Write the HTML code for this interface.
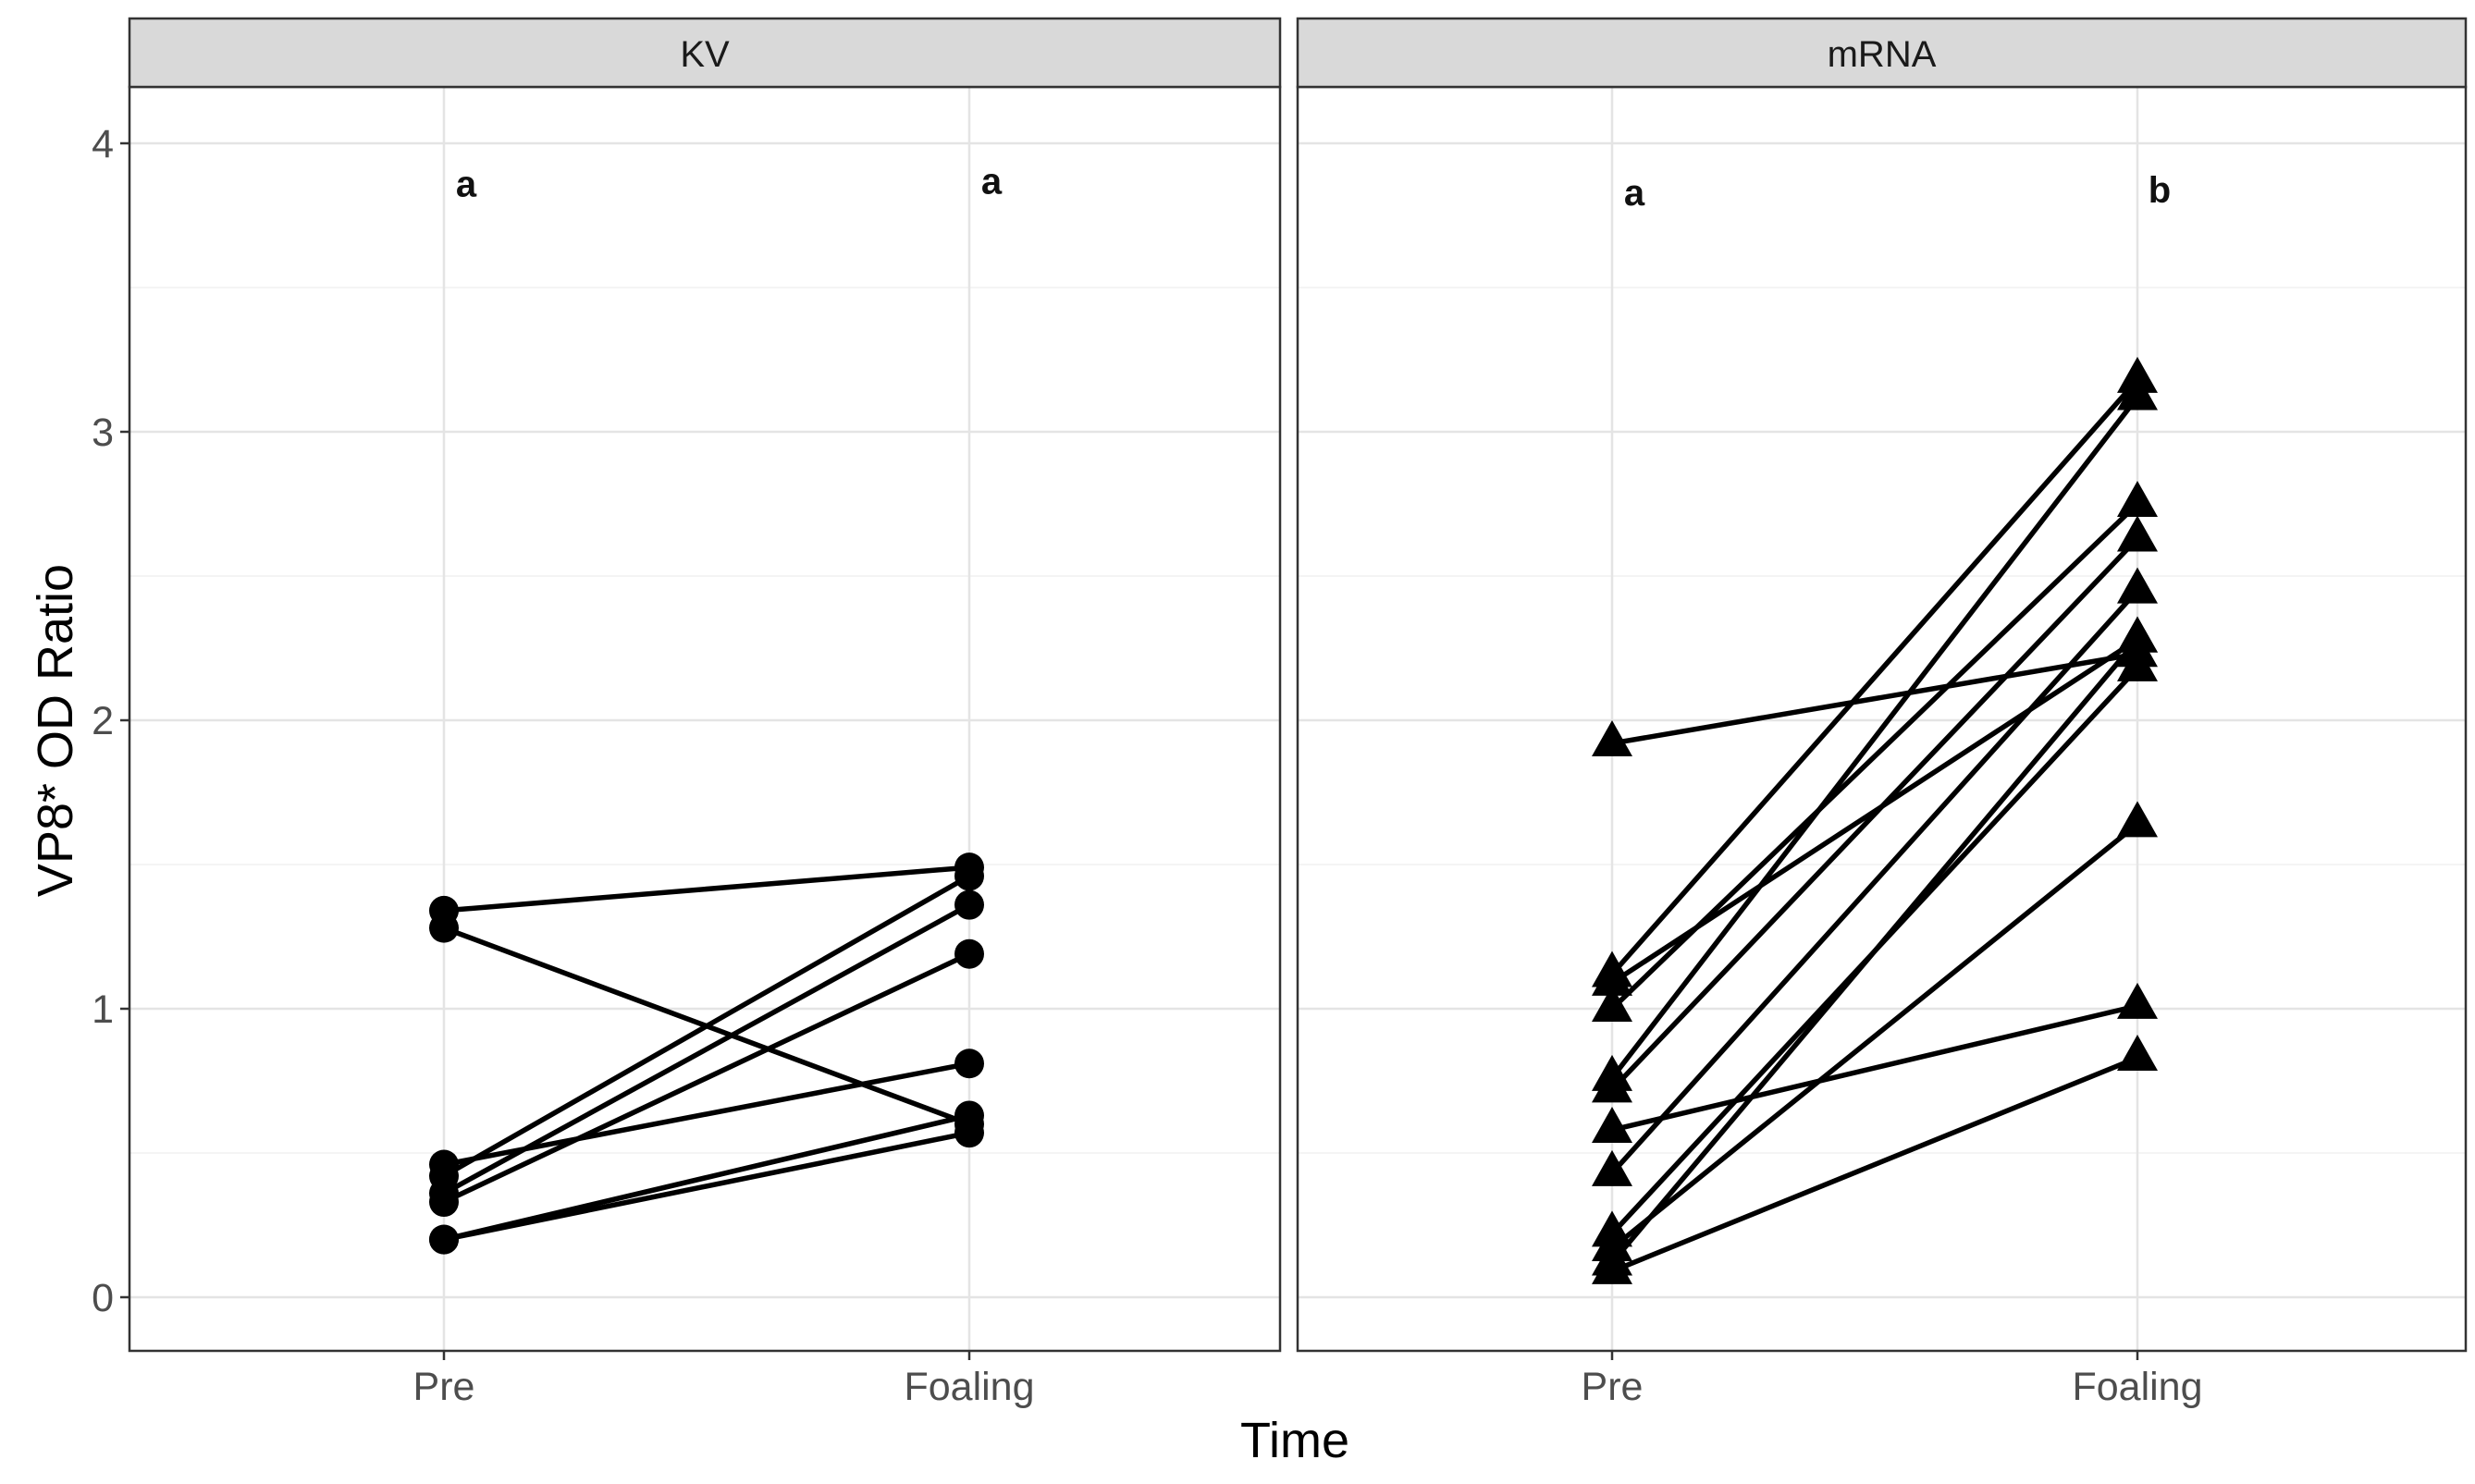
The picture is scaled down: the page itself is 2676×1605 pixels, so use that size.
<!DOCTYPE html>
<html><head><meta charset="utf-8"><style>
body{margin:0;background:#fff}
svg text{font-family:"Liberation Sans",Arial,sans-serif}
</style></head><body>
<svg id="chart" width="2676" height="1600" viewBox="0 0 2676 1600" xmlns="http://www.w3.org/2000/svg"></svg>
<script>
const yTicks=[0,1,2,3,4];
const xCats=["Pre","Foaling"];
const panels=["KV","mRNA"];
const kvPre=[1.34,1.28,0.46,0.42,0.36,0.33,0.20,0.20];
const kvFoal=[1.49,0.60,0.81,1.46,1.36,1.19,0.63,0.57];
const mrPre=[1.92,1.12,1.09,1.00,0.76,0.72,0.58,0.43,0.22,0.17,0.12,0.09];
const mrFoal=[2.23,3.18,2.28,2.75,3.12,2.63,1.01,2.45,2.18,1.64,2.28,0.83];
const letters=[["a","a"],["a","b"]];
const letterY=[[3.86,3.87],[3.83,3.84]];

const NS="http://www.w3.org/2000/svg";
const svg=document.getElementById('chart');
function el(t,a,p){const e=document.createElementNS(NS,t);for(const k in a)e.setAttribute(k,a[k]);(p||svg).appendChild(e);return e;}
const stripY=20,topY=94,botY=1461;
function yScale(v){return 1403-v*312;}
const frames=[{l:140,r:1384,x:[480,1048]},{l:1403,r:2666,x:[1743,2311]}];
const data=[[kvPre,kvFoal],[mrPre,mrFoal]];
frames.forEach((f,pi)=>{
  const g=el('g',{});
  
  
  el('rect',{x:f.l,y:topY,width:f.r-f.l,height:botY-topY,fill:'#fff'},g);
  for(let i=0;i<yTicks.length-1;i++){el('line',{x1:f.l,x2:f.r,y1:yScale(yTicks[i]+0.5),y2:yScale(yTicks[i]+0.5),stroke:'#f0f0f0','stroke-width':1.5},g);}
  yTicks.forEach(t=>{el('line',{x1:f.l,x2:f.r,y1:yScale(t),y2:yScale(t),stroke:'#e4e4e4','stroke-width':2.5},g);});
  f.x.forEach(x=>{el('line',{x1:x,x2:x,y1:topY,y2:botY,stroke:'#e4e4e4','stroke-width':2.5},g);});
  const pre=data[pi][0],fo=data[pi][1];
  for(let i=0;i<pre.length;i++){
    const ln=el('line',{x1:f.x[0],y1:yScale(pre[i]),x2:f.x[1],y2:yScale(fo[i]),stroke:'#000','stroke-width':5.5},g);
    
    
  }
  for(let i=0;i<pre.length;i++){
    [[f.x[0],pre[i]],[f.x[1],fo[i]]].forEach(([x,v])=>{
      let m;
      if(pi===0){m=el('circle',{cx:x,cy:yScale(v),r:16,fill:'#000'},g);}
      else{const cy=yScale(v);m=el('polygon',{points:`${x-22},${cy+14} ${x+22},${cy+14} ${x},${cy-25}`,fill:'#000'},g);}
      
      
    });
  }
  letters[pi].forEach((L,j)=>{
    const t=el('text',{x:f.x[j]+24,y:yScale(letterY[pi][j])+14,'font-size':40,'font-weight':'bold','text-anchor':'middle',fill:'#111'},g);
    t.textContent=L;
    
    
  });
  el('rect',{x:f.l,y:topY,width:f.r-f.l,height:botY-topY,fill:'none',stroke:'#333','stroke-width':2.5},g);
  const s=el('rect',{x:f.l,y:stripY,width:f.r-f.l,height:topY-stripY,fill:'#d9d9d9',stroke:'#333','stroke-width':2.5},g);
  
  
  const st=el('text',{x:(f.l+f.r)/2,y:72,'font-size':40,'text-anchor':'middle',fill:'#1a1a1a'},g);
  st.textContent=panels[pi];
  
  
  f.x.forEach((x,j)=>{
    el('line',{x1:x,x2:x,y1:botY,y2:botY+10,stroke:'#333','stroke-width':2.5},g);
    const t=el('text',{x:x,y:1514,'font-size':43,'text-anchor':'middle',fill:'#4d4d4d'},g);
    t.textContent=xCats[j];
    
    
  });
});
yTicks.forEach(t=>{
  el('line',{x1:130,x2:140,y1:yScale(t),y2:yScale(t),stroke:'#333','stroke-width':2.5});
  const tx=el('text',{x:123,y:yScale(t)+15,'font-size':43,'text-anchor':'end',fill:'#4d4d4d'});
  tx.textContent=t;
  
  
});
const yt=el('text',{x:0,y:0,'font-size':54,'text-anchor':'middle',fill:'#000',transform:'translate(78,790) rotate(-90)'});
yt.textContent='VP8* OD Ratio';


const xt=el('text',{x:1400,y:1576,'font-size':54,'text-anchor':'middle',fill:'#000'});
xt.textContent='Time';


</script>
</body></html>
